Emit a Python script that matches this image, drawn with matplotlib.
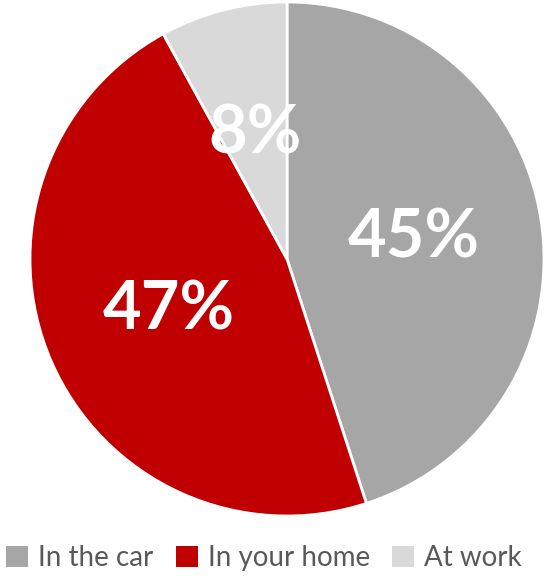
import matplotlib
matplotlib.use("Agg")
import matplotlib.pyplot as plt
from matplotlib.patches import Patch

categories = ["In the car", "In your home", "At work"]
values = [45, 47, 8]
colors = ["#A6A6A6", "#C00000", "#D9D9D9"]

plt.rcParams['font.family'] = ['Lato', 'DejaVu Sans']

W, H = 544, 577
fig = plt.figure(figsize=(W / 100, H / 100), dpi=100)
ax = fig.add_axes([30 / W, (H - 516) / H, 514 / W, 514 / H])

wedges, texts, autotexts = ax.pie(
    values, colors=colors, startangle=90, counterclock=False,
    autopct=lambda p: f"{p:.0f}%", pctdistance=0.5, radius=1.0,
    wedgeprops=dict(edgecolor="white", linewidth=2),
    textprops=dict(color="white", fontsize=48, fontweight="bold"))
ax.set_xlim(-1.0, 1.0)
ax.set_ylim(-1.0, 1.0)
ax.set_aspect("equal")
ax.axis("off")

handles = [Patch(facecolor=c, edgecolor="none") for c in colors]
fig.legend(handles, categories, loc="center", bbox_to_anchor=(264 / W, 1 - 558 / H),
           ncol=3, frameon=False, fontsize=20, labelcolor="#595959",
           handlelength=0.8, handleheight=0.8, handletextpad=0.35, columnspacing=0.8,
           borderpad=0, borderaxespad=0)

fig.savefig("out.png", dpi=100)
